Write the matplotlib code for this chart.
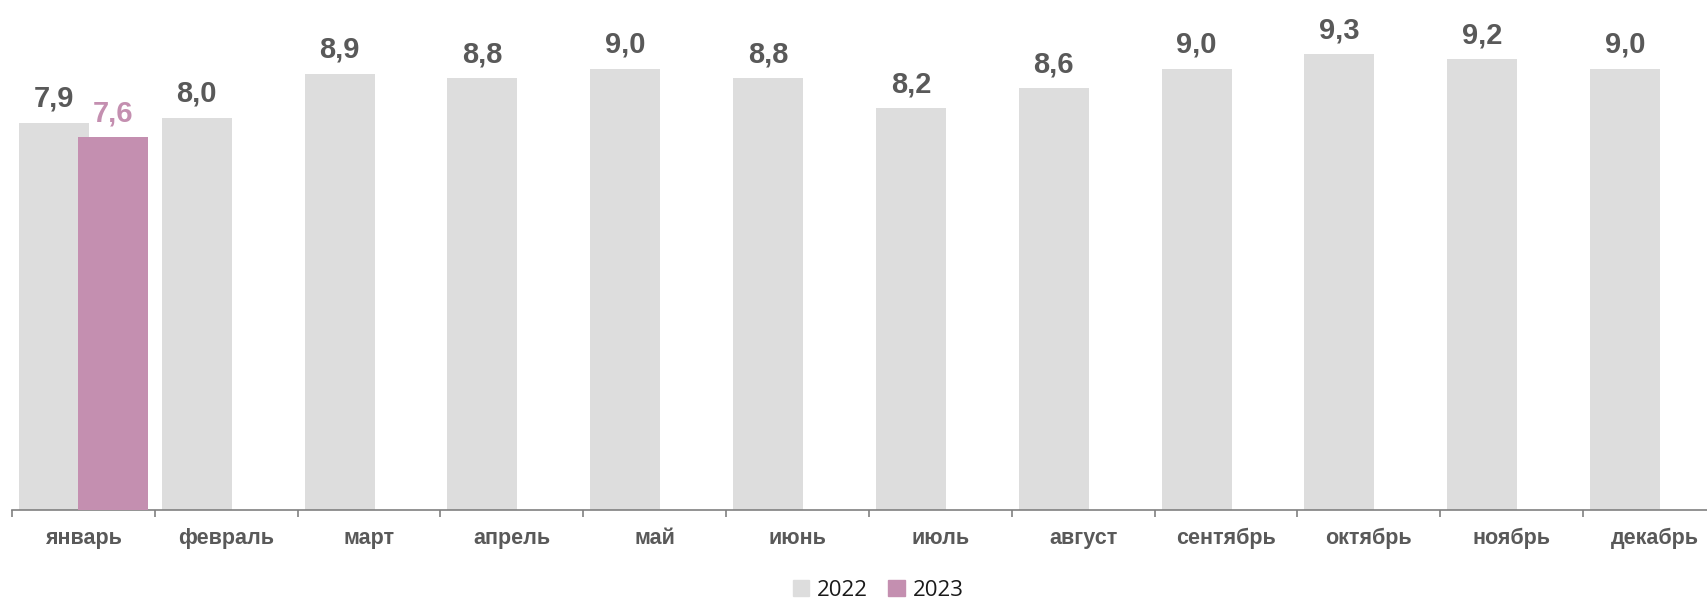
import matplotlib
matplotlib.use("Agg")
import matplotlib.pyplot as plt
import numpy as np
from matplotlib.patches import Patch

months = ["январь", "февраль", "март", "апрель", "май", "июнь", "июль",
          "август", "сентябрь", "октябрь", "ноябрь", "декабрь"]
values_2022 = [7.9, 8.0, 8.9, 8.8, 9.0, 8.8, 8.2, 8.6, 9.0, 9.3, 9.2, 9.0]
values_2023 = [7.6]
series_names = ["2022", "2023"]

c22 = "#DDDDDD"
c23 = "#C48FB0"
txt = "#595959"

fig = plt.figure(figsize=(17.08, 5.99), dpi=100)
ax = fig.add_axes([12/1708, 89/599, (1726-12)/1708, 510/599])

x = np.arange(len(months))
off = 0.206
w = 0.49
ax.bar(x - off, values_2022, width=w, color=c22, zorder=2)
x23 = x[:len(values_2023)]
ax.bar(x23 + off, values_2023, width=w, color=c23, zorder=3)

for xi, v in zip(x, values_2022):
    ax.annotate(f"{v:.1f}".replace(".", ","), (xi - off, v), xytext=(0, 7),
                textcoords="offset points", ha="center", va="bottom",
                fontsize=21, fontweight="bold", color=txt, family="Liberation Sans")
for xi, v in zip(x23, values_2023):
    ax.annotate(f"{v:.1f}".replace(".", ","), (xi + off, v), xytext=(0, 7),
                textcoords="offset points", ha="center", va="bottom",
                fontsize=21, fontweight="bold", color=c23, family="Liberation Sans")

ax.set_xlim(-0.5, len(months) - 0.5)
ax.set_ylim(0, 10.4)
ax.set_yticks([])
for s in ["top", "right", "left"]:
    ax.spines[s].set_visible(False)
ax.spines["bottom"].set_color("#808080")
ax.spines["bottom"].set_linewidth(1.2)

ax.set_xticks(x)
ax.set_xticklabels(months, fontsize=15.5, fontweight="bold", color=txt,
                   family="Liberation Sans")
ax.tick_params(axis="x", which="major", length=0, pad=13)
ax.set_xticks(np.arange(-0.5, len(months), 1.0), minor=True)
ax.tick_params(axis="x", which="minor", length=5, color="#808080", width=1.2)

handles = [Patch(color=c22), Patch(color=c23)]
fig.legend(handles, series_names, loc="center", bbox_to_anchor=(878/1708, 1 - 590/599),
           ncol=2, frameon=False, handlelength=0.75, handleheight=0.75,
           handletextpad=0.35, columnspacing=0.9, prop={"family": "Open Sans", "size": 16})
for t in fig.legends[0].get_texts():
    t.set_color("#1a1a1a")

fig.savefig("out.png", dpi=100)
